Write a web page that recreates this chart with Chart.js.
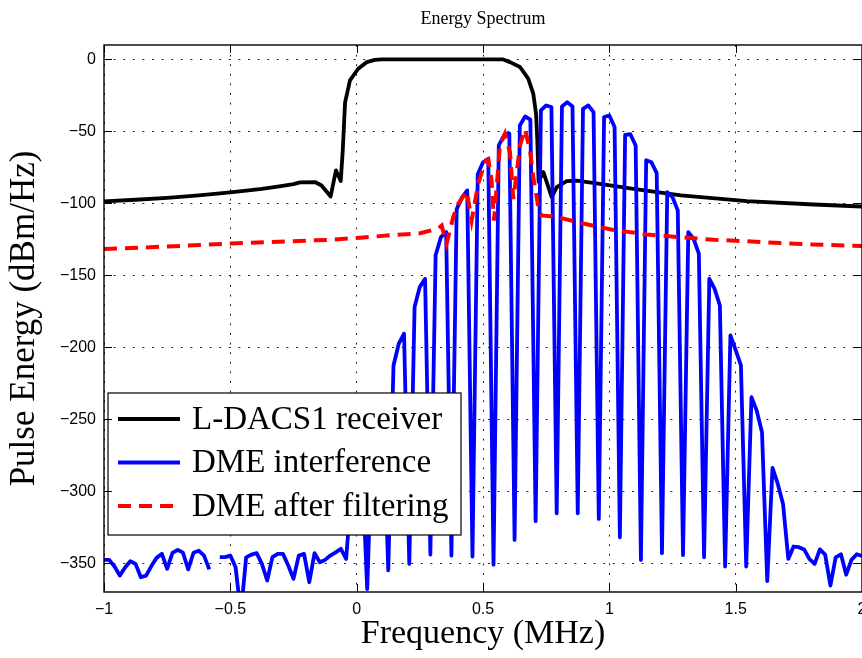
<!DOCTYPE html>
<html>
<head>
<meta charset="utf-8">
<title>Energy Spectrum</title>
<script src="https://cdn.jsdelivr.net/npm/chart.js@4.4.1/dist/chart.umd.min.js"></script>
<style>
    html, body { margin: 0; padding: 0; background: #fff; }
    #wrap { width: 862px; height: 658px; }
</style>
</head>
<body>
<div id="wrap"><canvas id="spectrumChart" width="862" height="658"></canvas></div>
<script>
// axis ticks
var xTicks = [-1, -0.5, 0, 0.5, 1, 1.5, 2];
var yTicks = [-350, -300, -250, -200, -150, -100, -50, 0];
var seriesNames = ['L-DACS1 receiver', 'DME interference', 'DME after filtering'];

// L-DACS1 receiver filter response
var rxFreq = [-1, -0.875, -0.75, -0.625, -0.5, -0.375, -0.3, -0.25, -0.2245, -0.165, -0.139, -0.103, -0.082, -0.063,
    -0.055, -0.046, -0.0265, 0.006, 0.04, 0.072, 0.1, 0.3, 0.58, 0.607, 0.6465, 0.679, 0.699, 0.71, 0.715, 0.72,
    0.739, 0.772, 0.792, 0.831, 0.871, 0.963, 1.095, 1.2835, 1.544, 1.808, 2];
var rxLevel = [-98.6, -97.5, -96.2, -94.5, -92.4, -90, -88, -86.6, -85.4, -85.2, -87.6, -95.2, -77.1, -84.5,
    -63, -30, -14.6, -6.5, -1.9, -0.3, 0, 0, 0, -1.9, -5.3, -13.4, -23.8, -37.7, -56.3, -85,
    -78.3, -95.7, -88.7, -84.6, -84.2, -86.4, -89.9, -94.5, -98.5, -100.8, -102.2];

// DME interference spectrum
var dmeFreq = [-1, -0.9792, -0.9583, -0.9375, -0.9167, -0.8958, -0.875, -0.8542, -0.8333, -0.8125, -0.7917, -0.7708,
    -0.75, -0.7292, -0.7083, -0.6875, -0.6667, -0.6458, -0.625, -0.6042, -0.5833, -0.5625, -0.5417, -0.5208,
    -0.5, -0.4792, -0.4583, -0.4375, -0.4167, -0.3958, -0.375, -0.3542, -0.3333, -0.3125, -0.2917, -0.2708,
    -0.25, -0.2292, -0.2083, -0.1875, -0.1667, -0.1458, -0.125, -0.1042, -0.0833, -0.0625, -0.0417, -0.0208,
    0, 0.0208, 0.0417, 0.0625, 0.0833, 0.1042, 0.125, 0.1458, 0.1667, 0.1875, 0.2083, 0.2292,
    0.25, 0.2708, 0.2917, 0.3125, 0.3333, 0.3542, 0.375, 0.3958, 0.4167, 0.4375, 0.4583, 0.4792,
    0.5, 0.5208, 0.5417, 0.5625, 0.5833, 0.6042, 0.625, 0.6458, 0.6667, 0.6875, 0.7083, 0.7292,
    0.75, 0.7708, 0.7917, 0.8125, 0.8333, 0.8542, 0.875, 0.8958, 0.9167, 0.9375, 0.9583, 0.9792,
    1, 1.0208, 1.0417, 1.0625, 1.0833, 1.1042, 1.125, 1.1458, 1.1667, 1.1875, 1.2083, 1.2292,
    1.25, 1.2708, 1.2917, 1.3125, 1.3333, 1.3542, 1.375, 1.3958, 1.4167, 1.4375, 1.4583, 1.4792,
    1.5, 1.5208, 1.5417, 1.5625, 1.5833, 1.6042, 1.625, 1.6458, 1.6667, 1.6875, 1.7083, 1.7292,
    1.75, 1.7708, 1.7917, 1.8125, 1.8333, 1.8542, 1.875, 1.8958, 1.9167, 1.9375, 1.9583, 1.9792, 2];
var dmeLevel = [-347.7, -347.7, -352.3, -358.6, -353, -348.6, -350.5, -359.8, -358.6, -352, -346.3, -343.5,
    -353.9, -342.9, -340.7, -342.7, -354.3, -342.7, -341.3, -344.7, -354.3, null, -345.8, -345.8,
    -344.7, -352.8, -385, -346, -344, -343, -350.5, -362, -345.8, -343.5, -343.5, -351.6,
    -360.8, -344.7, -343.5, -363.2, -343, -349.3, -347.7, -344.7, -342.4, -340, -347, -300,
    -285, -280, -368, -258, -243, -238, -355, -212.6, -197.5, -190.6, -350.5, -172,
    -158, -152.5, -344, -136, -123.5, -120, -344.7, -104, -96, -91, -345.4, -80,
    -71.5, -69, -351, -59.8, -52.8, -51.6, -333.8, -45.9, -39.6, -41.9, -320.8, -35.4,
    -32, -33.1, -315.3, -32.7, -29.7, -32.7, -315.3, -34.3, -32, -36.6, -319.2, -40,
    -39, -47, -332, -52.5, -52, -59.8, -347.7, -70, -71.5, -79, -343, -92.2,
    -95.7, -104.9, -344.4, -120, -124.6, -135, -345.8, -152.4, -159.4, -171, -352.3, -191.8,
    -202, -212.6, -352.3, -234.7, -244, -259, -362.5, -283.8, -294.9, -308.8, -347, -338.4,
    -338.9, -340.4, -347, -350.5, -340.4, -344, -365.5, -346, -343.8, -358, -347.7, -343.8, -345];

// DME after the receiver filter
var filtFreq = [-1, -0.75, -0.5, -0.106, 0.026, 0.132, 0.251, 0.323, 0.3365, 0.356, 0.382, 0.402, 0.4355, 0.455,
    0.481, 0.508, 0.521, 0.534, 0.5435, 0.567, 0.587, 0.607, 0.62, 0.633, 0.6465, 0.666, 0.686, 0.699,
    0.719, 0.732, 0.792, 0.897, 1.016, 1.148, 1.28, 1.412, 1.544, 1.676, 1.808, 2];
var filtLevel = [-131.8, -130, -127.9, -125.3, -123.7, -122.2, -120.8, -117.5, -115.5, -128, -109.6, -100.3, -91.5, -111.9,
    -86.4, -71.4, -69.5, -84, -112, -60, -51.6, -65, -97, -79.4, -59.8, -48.5, -63.2, -81.8,
    -102.6, -108.4, -109.5, -114, -118.5, -121.6, -123.5, -125.3, -126.3, -127.6, -128.6, -129.6];

function toPoints(xs, ys) {
    return xs.map(function(x, i) { return { x: x, y: ys[i] }; });
}

function fmt(v) {
    return String(v).replace('-', '\u2212');
}

var serif = '"Liberation Serif", "Times New Roman", serif';

// frame box with inward ticks on all sides (MATLAB style)
var framePlugin = {
    id: 'frame',
    afterDraw: function(chart) {
        var ctx = chart.ctx, a = chart.chartArea;
        var xs = chart.scales.x, ys = chart.scales.y;
        ctx.save();
        ctx.strokeStyle = '#000';
        ctx.lineWidth = 1;
        ctx.beginPath();
        xs.ticks.forEach(function(t) {
            var p = Math.round(xs.getPixelForValue(t.value)) + 0.5;
            ctx.moveTo(p, a.bottom); ctx.lineTo(p, a.bottom - 8);
            ctx.moveTo(p, a.top); ctx.lineTo(p, a.top + 8);
        });
        ys.ticks.forEach(function(t) {
            var p = Math.round(ys.getPixelForValue(t.value)) + 0.5;
            ctx.moveTo(a.left, p); ctx.lineTo(a.left + 8, p);
            ctx.moveTo(a.right, p); ctx.lineTo(a.right - 8, p);
        });
        ctx.stroke();
        ctx.lineWidth = 1.4;
        ctx.strokeRect(a.left, a.top, a.right - a.left, a.bottom - a.top);

        // title
        ctx.fillStyle = '#000';
        ctx.font = '18px ' + serif;
        ctx.textAlign = 'center';
        ctx.textBaseline = 'middle';
        ctx.fillText('Energy Spectrum', (a.left + a.right) / 2, 19);
        ctx.restore();
    }
};

// legend box inside the plot, lower left
var legendPlugin = {
    id: 'legendBox',
    afterDatasetsDraw: function(chart) {
        var ctx = chart.ctx, a = chart.chartArea;
        var left = a.left + 4, top = a.top + 348, w = 353, h = 142;
        ctx.save();
        ctx.fillStyle = '#fff';
        ctx.fillRect(left, top, w, h);
        ctx.strokeStyle = '#000';
        ctx.lineWidth = 1.2;
        ctx.strokeRect(left, top, w, h);
        ctx.font = '33px ' + serif;
        ctx.textBaseline = 'middle';
        chart.data.datasets.forEach(function(ds, i) {
            var yy = top + 26 + i * 43.5;
            ctx.beginPath();
            ctx.setLineDash(ds.borderDash || []);
            ctx.lineCap = 'butt';
            ctx.strokeStyle = ds.borderColor;
            ctx.lineWidth = ds.borderWidth;
            ctx.moveTo(left + 10, yy);
            ctx.lineTo(left + 72, yy);
            ctx.stroke();
            ctx.setLineDash([]);
            ctx.fillStyle = '#000';
            ctx.fillText(ds.label, left + 84, yy + 1);
        });
        ctx.restore();
    }
};

var ctx = document.getElementById('spectrumChart').getContext('2d');
var spectrumChart = new Chart(ctx, {
    type: 'line',
    data: {
        datasets: [{
            label: seriesNames[0],
            data: toPoints(rxFreq, rxLevel),
            borderColor: '#000000',
            borderWidth: 3.8,
            borderJoinStyle: 'round',
            pointRadius: 0,
            order: 3
        }, {
            label: seriesNames[1],
            data: toPoints(dmeFreq, dmeLevel),
            borderColor: '#0000ff',
            borderWidth: 3.8,
            borderJoinStyle: 'round',
            pointRadius: 0,
            spanGaps: false,
            order: 2
        }, {
            label: seriesNames[2],
            data: toPoints(filtFreq, filtLevel),
            borderColor: '#ff0000',
            borderWidth: 4,
            borderDash: [13, 8],
            borderCapStyle: 'butt',
            pointRadius: 0,
            order: 1
        }]
    },
    options: {
        responsive: false,
        animation: false,
        events: [],
        layout: { padding: { top: 45, right: 0, bottom: 0, left: 0 } },
        plugins: {
            legend: { display: false },
            tooltip: { enabled: false },
            title: { display: false }
        },
        scales: {
            x: {
                type: 'linear',
                min: -1,
                max: 2,
                afterBuildTicks: function(scale) {
                    scale.ticks = xTicks.map(function(v) { return { value: v }; });
                },
                afterFit: function(scale) {
                    scale.height = 66;
                    scale.paddingLeft = 0;
                    scale.paddingRight = 0;
                },
                grid: { color: 'rgba(0,0,0,0.85)', lineWidth: 1, drawTicks: false },
                border: { display: false, dash: [2, 7.6] },
                ticks: {
                    color: '#000',
                    padding: 8,
                    maxRotation: 0,
                    font: { family: '"Liberation Sans", Arial, sans-serif', size: 16 },
                    callback: function(v) { return fmt(v); }
                },
                title: {
                    display: true,
                    text: 'Frequency (MHz)',
                    color: '#000',
                    font: { family: serif, size: 34 },
                    padding: { top: 0, bottom: 3.2 }
                }
            },
            y: {
                min: -370,
                max: 10,
                afterBuildTicks: function(scale) {
                    scale.ticks = yTicks.map(function(v) { return { value: v }; });
                },
                afterFit: function(scale) {
                    scale.width = 104;
                    scale.paddingTop = 0;
                    scale.paddingBottom = 0;
                },
                grid: { color: 'rgba(0,0,0,0.85)', lineWidth: 1, drawTicks: false },
                border: { display: false, dash: [2, 7.6] },
                ticks: {
                    color: '#000',
                    padding: 8,
                    font: { family: '"Liberation Sans", Arial, sans-serif', size: 16 },
                    callback: function(v) { return fmt(v); }
                },
                title: {
                    display: true,
                    text: 'Pulse Energy (dBm/Hz)',
                    color: '#000',
                    font: { family: serif, size: 35 },
                    padding: { top: 4.2, bottom: 0 }
                }
            }
        }
    },
    plugins: [legendPlugin, framePlugin]
});
</script>
</body>
</html>
